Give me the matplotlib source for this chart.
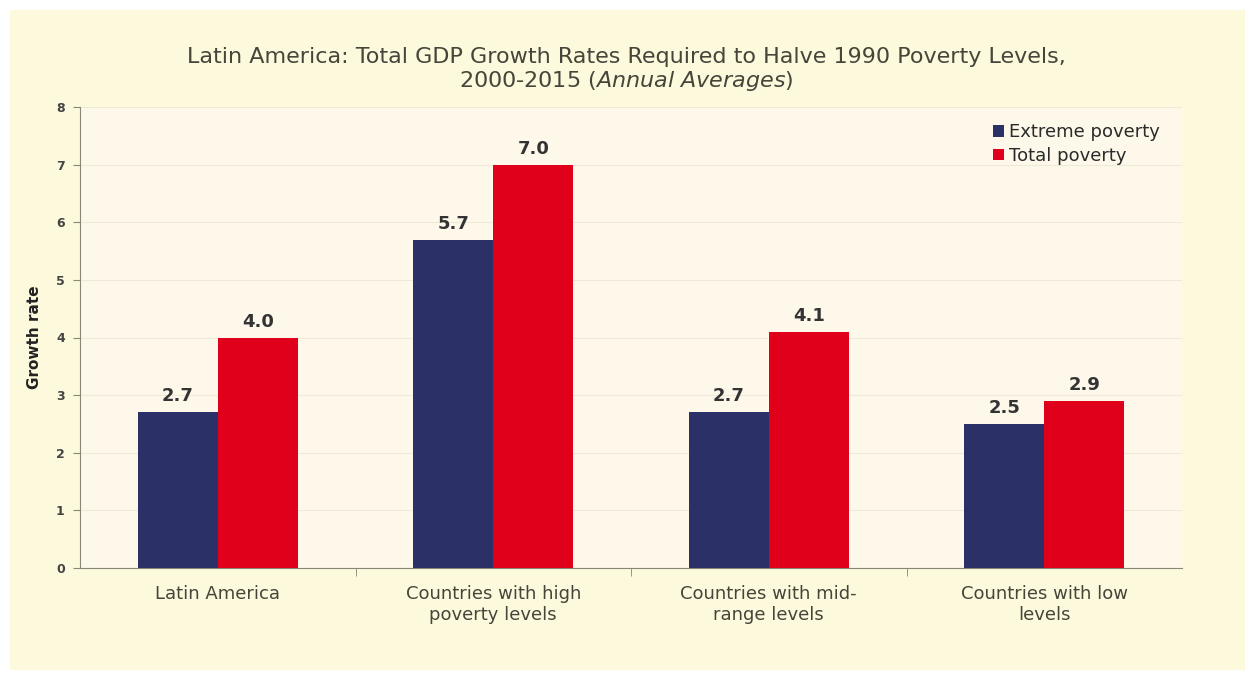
import numpy as np
import matplotlib.pyplot as plt
from matplotlib.patches import Rectangle

# === Data ===
categories = ["Latin America", "Countries with high\npoverty levels",
              "Countries with mid-\nrange levels", "Countries with low\nlevels"]
extreme = [2.7, 5.7, 2.7, 2.5]
total = [4.0, 7.0, 4.1, 2.9]
y_ticks = [0, 1, 2, 3, 4, 5, 6, 7, 8]

navy = "#2b3066"
red = "#e1001c"
text_col = "#45453a"

fig = plt.figure(figsize=(12.53, 6.84), dpi=100, facecolor="white")

# cream panel behind the chart
fig.patches.append(Rectangle((10 / 1253, 14 / 684), 1235 / 1253, 660 / 684,
                             transform=fig.transFigure, facecolor="#fdf9dc",
                             edgecolor="none", zorder=-10))

ax = fig.add_axes([80 / 1253, 1 - 568 / 684, 1102 / 1253, 461 / 684])
ax.set_zorder(5)
ax.set_facecolor("#fdf8ea")

x = np.arange(len(categories))
w = 0.29
b1 = ax.bar(x - w / 2, extreme, w, color=navy, label="Extreme poverty", zorder=3)
b2 = ax.bar(x + w / 2, total, w, color=red, label="Total poverty", zorder=3)

for bars in (b1, b2):
    for rect in bars:
        ax.text(rect.get_x() + rect.get_width() / 2, rect.get_height() + 0.12,
                f"{rect.get_height():.1f}", ha="center", va="bottom",
                fontsize=13, fontweight="semibold", color="#333333", zorder=4)

ax.set_xlim(-0.5, len(categories) - 0.5)
ax.set_ylim(0, 8)
ax.set_yticks(y_ticks)
ax.set_yticklabels([str(t) for t in y_ticks], fontsize=9, fontweight="bold",
                   color="#444444")
ax.yaxis.grid(True, color="#efe9d6", linewidth=0.8, zorder=0)

ax.set_xticks(x)
ax.set_xticklabels(categories, fontsize=13, color=text_col, linespacing=1.25)
ax.tick_params(axis="x", length=0, pad=12)
ax.set_xticks(np.arange(0.5, len(categories) - 0.5, 1), minor=True)
ax.tick_params(axis="x", which="minor", length=6, color="#888877")
ax.tick_params(axis="y", length=5, color="#888877", pad=6)

for side in ("top", "right"):
    ax.spines[side].set_visible(False)
for side in ("left", "bottom"):
    ax.spines[side].set_color("#888877")

ax.set_ylabel("Growth rate", fontsize=11, fontweight="bold", color="#222222",
              labelpad=10)

ax.legend(loc="upper right", frameon=False, fontsize=13, handlelength=0.6,
          handleheight=0.6, handletextpad=0.3, labelspacing=0.3,
          labelcolor="#2a2a2a", bbox_to_anchor=(0.995, 1.0))

fig.text(0.5, 1 - 57 / 684, "Latin America: Total GDP Growth Rates Required to Halve 1990 Poverty Levels,",
         ha="center", va="center", fontsize=16, color=text_col)
fig.text(0.5, 1 - 81 / 684, "2000-2015 $\\it{(Annual\\ Averages)}$",
         ha="center", va="center", fontsize=16, color=text_col)

fig.savefig("out.png", dpi=100, facecolor=fig.get_facecolor())
